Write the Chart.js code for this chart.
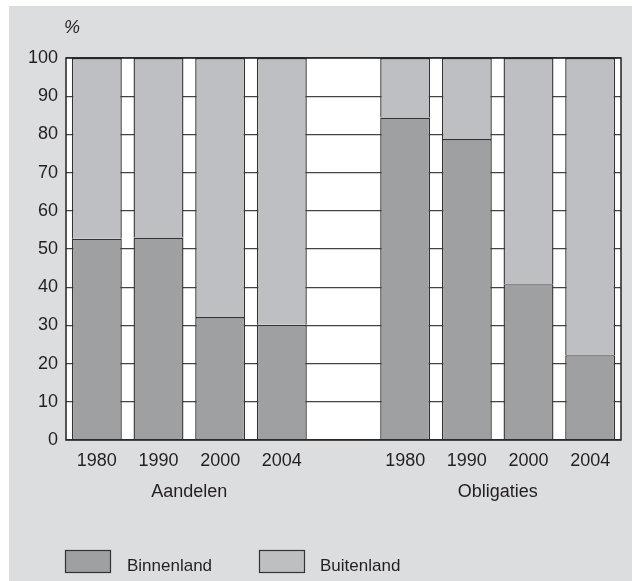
<!DOCTYPE html>
<html>
<head>
<meta charset="utf-8">
<script src="https://cdn.jsdelivr.net/npm/chart.js@4/dist/chart.umd.min.js"></script>
<style>
  html, body { margin: 0; padding: 0; background: #ffffff; }
  #wrap { width: 632px; height: 581px; position: relative; }
</style>
</head>
<body>
<div id="wrap"><canvas id="c" width="632" height="581"></canvas></div>
<script>
// Year labels per bar; the empty slot separates the two asset groups
const categories = ['1980', '1990', '2000', '2004', '', '1980', '1990', '2000', '2004'];
const groups = ['Aandelen', 'Obligaties'];
const groupRanges = [[0, 3], [5, 8]];
// Share of domestic vs foreign holdings, in %
const binnenland = [52.7, 53.0, 32.2, 30.2, null, 84.4, 78.8, 40.8, 22.2];
const buitenland = [47.3, 47.0, 67.8, 69.8, null, 15.6, 21.2, 59.2, 77.8];
const yTicks = [0, 10, 20, 30, 40, 50, 60, 70, 80, 90, 100];
const seriesNames = ['Binnenland', 'Buitenland'];

const FONT = '"Liberation Sans", Arial, sans-serif';
const TEXT = '#231f20';
const PAGE_BG = '#dcdddf';
const DARK = '#9fa0a2';
const LIGHT = '#bebfc2';
const EDGE = '#333333';

const framePlugin = {
  id: 'frame',
  beforeDraw(chart) {
    const { ctx, chartArea: a } = chart;
    ctx.save();
    ctx.fillStyle = PAGE_BG;
    ctx.fillRect(9, 6, chart.width - 9, chart.height - 6);
    ctx.fillStyle = '#ffffff';
    ctx.fillRect(a.left, a.top, a.right - a.left, a.bottom - a.top);
    ctx.restore();
  },
  afterDraw(chart) {
    const { ctx, chartArea: a, scales } = chart;
    ctx.save();
    // plot frame
    ctx.strokeStyle = '#222222';
    ctx.lineWidth = 1.5;
    ctx.strokeRect(a.left, a.top, a.right - a.left, a.bottom - a.top);

    // unit label
    ctx.fillStyle = TEXT;
    ctx.font = 'italic 18px ' + FONT;
    ctx.textAlign = 'left';
    ctx.textBaseline = 'middle';
    ctx.fillText('%', 64, 28);

    // group labels under the year ticks
    ctx.font = '18px ' + FONT;
    ctx.textAlign = 'center';
    groups.forEach((g, i) => {
      const [s, e] = groupRanges[i];
      const cx = (scales.x.getPixelForValue(s) + scales.x.getPixelForValue(e)) / 2;
      ctx.fillText(g, cx, 492);
    });

    // legend
    const colors = [DARK, LIGHT];
    const boxX = [65, 259];
    const textX = [127, 320];
    ctx.font = '17px ' + FONT;
    seriesNames.forEach((n, i) => {
      ctx.fillStyle = colors[i];
      ctx.fillRect(boxX[i], 550, 46, 23);
      ctx.strokeStyle = EDGE;
      ctx.lineWidth = 1.2;
      ctx.strokeRect(boxX[i] + 0.5, 550.5, 45, 22);
      ctx.fillStyle = TEXT;
      ctx.textAlign = 'left';
      ctx.fillText(n, textX[i], 566);
    });
    ctx.restore();
  }
};

new Chart(document.getElementById('c'), {
  type: 'bar',
  data: {
    labels: categories,
    datasets: [
      { label: seriesNames[0], data: binnenland, backgroundColor: DARK, borderColor: EDGE, borderWidth: 1.4 },
      { label: seriesNames[1], data: buitenland, backgroundColor: LIGHT, borderColor: EDGE, borderWidth: 1.4 }
    ]
  },
  options: {
    responsive: false,
    animation: false,
    devicePixelRatio: 1,
    layout: { padding: { top: 58, right: 11, bottom: 0, left: 0 } },
    datasets: { bar: { barPercentage: 0.81, categoryPercentage: 1.0 } },
    plugins: { legend: { display: false }, title: { display: false }, tooltip: { enabled: false } },
    scales: {
      x: {
        stacked: true,
        grid: { display: false, drawTicks: false },
        border: { display: false },
        ticks: { color: TEXT, font: { family: FONT, size: 18 }, padding: 10, maxRotation: 0, autoSkip: false },
        afterFit(s) { s.height = 141; }
      },
      y: {
        stacked: true,
        min: 0, max: 100,
        afterBuildTicks(s) { s.ticks = yTicks.map(v => ({ value: v })); },
        grid: { color: '#444444', lineWidth: 1.3, drawTicks: false },
        border: { display: false },
        ticks: { color: TEXT, font: { family: FONT, size: 18 }, padding: 8 },
        afterFit(s) { s.width = 66; }
      }
    }
  },
  plugins: [framePlugin]
});
</script>
</body>
</html>
